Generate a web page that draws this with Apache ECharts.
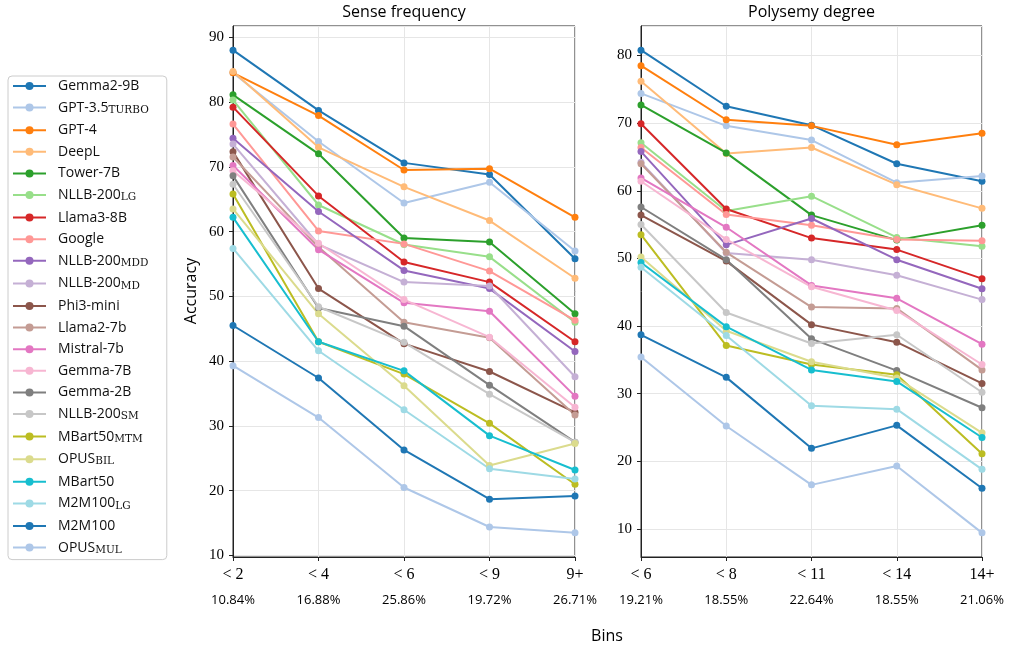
<!DOCTYPE html>
<html>
<head>
<meta charset="utf-8">
<script src="https://cdn.jsdelivr.net/npm/echarts@6/dist/echarts.min.js"></script>
<style>
  html, body { margin: 0; padding: 0; background: #fff; }
  #chart { width: 1016px; height: 652px; }
</style>
</head>
<body>
<div id="chart"></div>
<script>
// Model names; text after "|" is rendered as a subscript in the legend
const modelNames = [
  'Gemma2-9B', 'GPT-3.5|TURBO', 'GPT-4', 'DeepL', 'Tower-7B', 'NLLB-200|LG',
  'Llama3-8B', 'Google', 'NLLB-200|MDD', 'NLLB-200|MD', 'Phi3-mini', 'Llama2-7b',
  'Mistral-7b', 'Gemma-7B', 'Gemma-2B', 'NLLB-200|SM', 'MBart50|MTM', 'OPUS|BIL',
  'MBart50', 'M2M100|LG', 'M2M100', 'OPUS|MUL'
];

const senseBins = ['< 2', '< 4', '< 6', '< 9', '9+'];
const senseShare = ['10.84%', '16.88%', '25.86%', '19.72%', '26.71%'];
const polyBins = ['< 6', '< 8', '< 11', '< 14', '14+'];
const polyShare = ['19.21%', '18.55%', '22.64%', '18.55%', '21.06%'];

// Accuracy per sense-frequency bin, one row per model (same order as modelNames)
const senseAcc = [
  [88.0, 78.7, 70.6, 68.8, 55.8],
  [84.5, 73.9, 64.4, 67.6, 57.0],
  [84.5, 77.9, 69.5, 69.7, 62.2],
  [84.7, 73.0, 66.9, 61.7, 52.8],
  [81.1, 72.0, 59.0, 58.4, 47.3],
  [80.3, 64.1, 58.0, 56.1, 46.0],
  [79.2, 65.5, 55.3, 52.2, 43.0],
  [76.6, 60.1, 58.1, 53.9, 46.3],
  [74.4, 63.1, 54.0, 51.2, 41.5],
  [73.5, 58.0, 52.2, 51.6, 37.6],
  [72.3, 51.2, 42.7, 38.4, 32.1],
  [71.5, 57.6, 46.0, 43.6, 31.7],
  [70.2, 57.2, 49.0, 47.7, 34.6],
  [69.4, 58.2, 49.5, 43.7, 32.9],
  [68.6, 48.2, 45.4, 36.3, 27.5],
  [67.3, 48.4, 42.9, 34.9, 27.5],
  [65.8, 43.0, 38.0, 30.4, 21.0],
  [63.5, 47.3, 36.2, 23.9, 27.3],
  [62.2, 43.0, 38.5, 28.5, 23.2],
  [57.4, 41.6, 32.5, 23.4, 21.8],
  [45.5, 37.4, 26.3, 18.7, 19.2],
  [39.3, 31.3, 20.5, 14.4, 13.5]
];

// Accuracy per polysemy-degree bin
const polyAcc = [
  [80.8, 72.5, 69.7, 64.0, 61.4],
  [74.4, 69.6, 67.5, 61.2, 62.2],
  [78.5, 70.5, 69.6, 66.8, 68.5],
  [76.2, 65.5, 66.4, 60.9, 57.4],
  [72.7, 65.6, 56.4, 52.7, 54.9],
  [67.1, 57.0, 59.2, 53.1, 51.8],
  [69.9, 57.3, 53.0, 51.3, 47.0],
  [66.4, 56.5, 54.9, 52.8, 52.6],
  [65.8, 52.0, 55.9, 49.8, 45.5],
  [64.2, 50.8, 49.8, 47.5, 43.9],
  [56.4, 49.6, 40.2, 37.6, 31.5],
  [64.0, 50.9, 42.8, 42.6, 33.5],
  [61.9, 54.6, 46.0, 44.1, 37.3],
  [61.4, 52.8, 45.8, 42.3, 34.3],
  [57.6, 49.8, 38.1, 33.4, 27.9],
  [55.0, 42.0, 37.4, 38.7, 30.2],
  [53.5, 37.1, 34.3, 32.8, 21.1],
  [50.2, 39.3, 34.7, 32.3, 24.2],
  [49.4, 39.9, 33.5, 31.8, 23.5],
  [48.7, 38.6, 28.2, 27.7, 18.8],
  [38.7, 32.4, 21.9, 25.3, 16.0],
  [35.4, 25.2, 16.5, 19.3, 9.4]
];

// tab20 colour cycle
const palette = [
  '#1f77b4', '#aec7e8', '#ff7f0e', '#ffbb78', '#2ca02c', '#98df8a', '#d62728',
  '#ff9896', '#9467bd', '#c5b0d5', '#8c564b', '#c49c94', '#e377c2', '#f7b6d2',
  '#7f7f7f', '#c7c7c7', '#bcbd22', '#dbdb8d', '#17becf', '#9edae5'
];

const SANS = '"Open Sans", "DejaVu Sans", sans-serif';
const SERIF = '"Liberation Serif", "DejaVu Serif", serif';
const FRAME = '#222';
const GRIDLINE = '#e6e6e6';

// 5% padding around the data range, like matplotlib autoscaling
const padMin = (e) => e.min - 0.05 * (e.max - e.min);
const padMax = (e) => e.max + 0.05 * (e.max - e.min);

function makeXAxis(gridIndex, bins, share) {
  return {
    type: 'category',
    gridIndex: gridIndex,
    data: bins,
    boundaryGap: false,
    axisLine: { show: true, lineStyle: { color: FRAME, width: 1 } },
    axisTick: { show: true, length: 4, lineStyle: { color: FRAME } },
    splitLine: { show: true, lineStyle: { color: GRIDLINE, width: 1 } },
    axisLabel: {
      interval: 0,
      margin: 8,
      formatter: (v, i) => '{m|' + v + '}\n{p|' + share[i] + '}',
      rich: {
        m: { fontFamily: SERIF, fontSize: 16, lineHeight: 20, color: '#000' },
        p: { fontFamily: SANS, fontSize: 13, lineHeight: 20, padding: [10, 0, 0, 0], color: '#000' }
      }
    }
  };
}

function makeYAxis(gridIndex) {
  return {
    type: 'value',
    gridIndex: gridIndex,
    min: padMin,
    max: padMax,
    splitNumber: 8,
    axisLine: { show: true, lineStyle: { color: FRAME, width: 1 } },
    axisTick: { show: true, length: 4, lineStyle: { color: FRAME } },
    splitLine: { show: true, lineStyle: { color: GRIDLINE, width: 1 } },
    axisLabel: {
      fontFamily: SERIF, fontSize: 15, color: '#000', margin: 9,
      showMinLabel: false, showMaxLabel: false
    }
  };
}

const series = [];
modelNames.forEach((name, i) => {
  const color = palette[i % palette.length];
  [senseAcc, polyAcc].forEach((rows, g) => {
    series.push({
      name: name,
      type: 'line',
      xAxisIndex: g,
      yAxisIndex: g,
      data: rows[i],
      color: color,
      symbol: 'circle',
      symbolSize: 7,
      lineStyle: { width: 2, color: color },
      itemStyle: { color: color },
      emphasis: { disabled: true }
    });
  });
});

const legendRich = {
  b: { fontFamily: SANS, fontSize: 14, lineHeight: 16, color: '#111' },
  s: { fontFamily: '"DejaVu Serif", serif', fontSize: 10.5, lineHeight: 8, verticalAlign: 'bottom', color: '#111' }
};

const option = {
  animation: false,
  backgroundColor: '#fff',
  grid: [
    { left: 233, top: 26, width: 342, height: 531, show: true, borderColor: FRAME, borderWidth: 1, backgroundColor: 'transparent' },
    { left: 641, top: 26, width: 341, height: 531, show: true, borderColor: FRAME, borderWidth: 1, backgroundColor: 'transparent' }
  ],
  xAxis: [makeXAxis(0, senseBins, senseShare), makeXAxis(1, polyBins, polyShare)],
  yAxis: [makeYAxis(0), makeYAxis(1)],
  legend: {
    orient: 'vertical',
    left: 8,
    top: 76,
    data: modelNames,
    itemWidth: 33,
    itemHeight: 10,
    itemGap: 7.6,
    padding: [3, 18, 4, 4],
    borderColor: '#cccccc',
    borderWidth: 1,
    borderRadius: 4,
    backgroundColor: 'rgba(255,255,255,0.8)',
    selectedMode: false,
    formatter: (name) => {
      const parts = name.split('|');
      return '{b|' + parts[0] + '}' + (parts[1] ? '{s|' + parts[1] + '}' : '');
    },
    textStyle: { padding: [0, 0, 0, 7], rich: legendRich }
  },
  graphic: [
    { type: 'text', x: 404, y: 12, style: { text: 'Sense frequency', font: '16px ' + SANS, fill: '#000', align: 'center', verticalAlign: 'middle' } },
    { type: 'text', x: 811.5, y: 12, style: { text: 'Polysemy degree', font: '16px ' + SANS, fill: '#000', align: 'center', verticalAlign: 'middle' } },
    { type: 'text', x: 607, y: 636, style: { text: 'Bins', font: '16px ' + SANS, fill: '#000', align: 'center', verticalAlign: 'middle' } },
    { type: 'text', x: 191, y: 291, rotation: Math.PI / 2, style: { text: 'Accuracy', font: '16px ' + SANS, fill: '#000', align: 'center', verticalAlign: 'middle' } }
  ],
  series: series
};

const chart = echarts.init(document.getElementById('chart'), null, { renderer: 'canvas' });
chart.setOption(option);
</script>
</body>
</html>
